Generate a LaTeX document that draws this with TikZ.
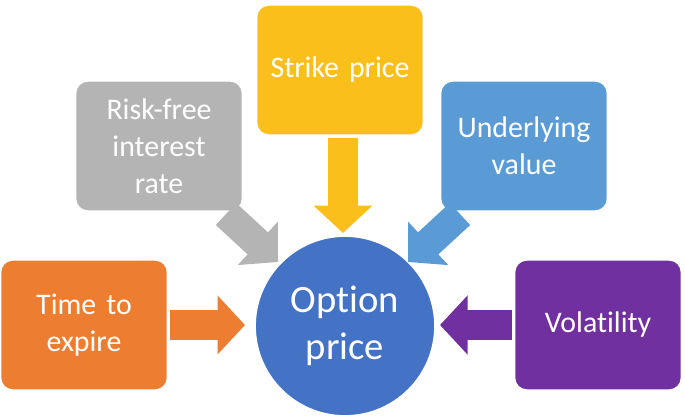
\documentclass[tikz,border=0pt]{standalone}
\usepackage{fontspec}
\setmainfont{Carlito}[Ligatures={NoCommon}]
\usetikzlibrary{arrows.meta, positioning}

\definecolor{orangeC}{HTML}{ED7D31}
\definecolor{grayC}{HTML}{B4B4B4}
\definecolor{yellowC}{HTML}{FBBF1C}
\definecolor{blueC}{HTML}{5B9BD5}
\definecolor{purpleC}{HTML}{7030A0}
\definecolor{circC}{HTML}{4472C4}

\begin{document}
\begin{tikzpicture}[x=0.02cm, y=-0.02cm,
    factor/.style={rectangle, draw=white, line width=0.8pt, rounded corners=0.24cm, minimum width=3.26cm, minimum height=2.6cm, text width=3.1cm, align=center, text=white, font=\fontsize{17}{21}\selectfont},
    result/.style={circle, draw=white, line width=1pt, fill=circC, minimum size=3.6cm, align=center, text=white, font=\fontsize{22}{27}\selectfont},
    blockarrow/.style={line width=0.6cm, -{Triangle[length=0.55cm, width=1.15cm]}}
]
    \useasboundingbox (0,0) rectangle (685,417);

    % Center
    \node[result] (option) at (345,326) {Option\\price};

    % Factors
    \node[factor, fill=orangeC] (time) at (84,325) {Time to\\expire};
    \node[factor, fill=grayC] (riskfree) at (159,146) {Risk-free\\interest\\rate};
    \node[factor, fill=yellowC] (strike) at (340,70) {Strike price};
    \node[factor, fill=blueC] (underlying) at (524,146) {Underlying\\value};
    \node[factor, fill=purpleC] (vola) at (598,325) {Volatility};

    % Arrow ends
    \coordinate (timeE) at (245,325);
    \coordinate (riskE) at (278,262);
    \coordinate (strikeE) at (343,233);
    \coordinate (underE) at (408,262);
    \coordinate (volaE) at (440,325);

    % Arrows
    \draw[blockarrow, orangeC] (time.east) ++(2,0) -- (timeE);
    \draw[blockarrow, grayC] (226,214) -- (riskE);
    \draw[blockarrow, yellowC] (strike.south) ++(3,2) -- (strikeE);
    \draw[blockarrow, blueC] (460,214) -- (underE);
    \draw[blockarrow, purpleC] (vola.west) ++(-2,0) -- (volaE);
\end{tikzpicture}
\end{document}
